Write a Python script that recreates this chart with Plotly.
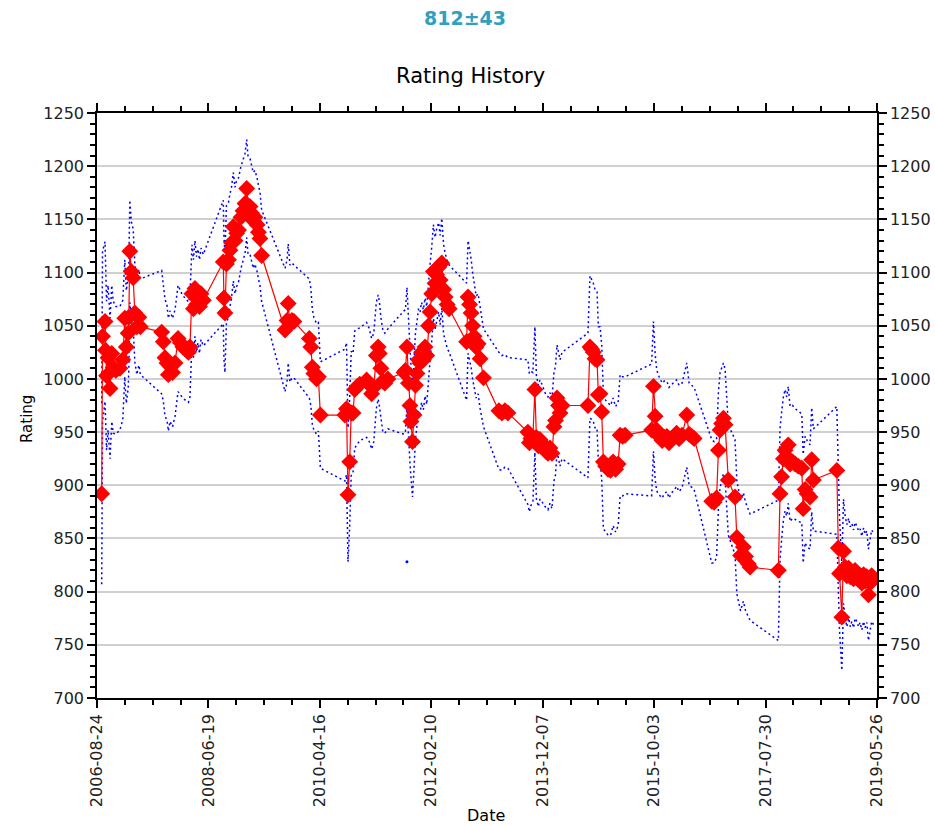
import plotly.graph_objects as go
import pandas as pd

# ---------------- data ----------------
dates = [
    # 2006
    "2006-09-21", "2006-09-26", "2006-10-11", "2006-10-14", "2006-10-20", "2006-10-29", "2006-11-10", "2006-11-20", "2006-11-29", "2006-12-15",
    # 2007 Jan-May
    "2007-01-08", "2007-01-25", "2007-02-06", "2007-02-15", "2007-02-26", "2007-03-02", "2007-03-08", "2007-03-17", "2007-03-28", "2007-04-07", "2007-04-19", "2007-05-01", "2007-05-10",
    # 2007-09 .. 2008-05
    "2007-09-14", "2007-09-24", "2007-10-04", "2007-10-16", "2007-10-24", "2007-11-03", "2007-11-18", "2007-12-03", "2007-12-21", "2008-01-04", "2008-01-19",
    "2008-02-10", "2008-02-21", "2008-03-01", "2008-03-13", "2008-03-22", "2008-03-31", "2008-04-09", "2008-04-18", "2008-04-27", "2008-05-06", "2008-05-20",
    # 2008-09 .. 2009-05
    "2008-09-16", "2008-09-20", "2008-09-26", "2008-10-05", "2008-10-17", "2008-10-26", "2008-11-04", "2008-11-15", "2008-11-25", "2008-12-05", "2008-12-16", "2008-12-31",
    "2009-01-12", "2009-01-24", "2009-02-03", "2009-02-11", "2009-02-23", "2009-03-04", "2009-03-14", "2009-03-24", "2009-04-06", "2009-04-14", "2009-04-23", "2009-05-03",
    # 2009-09 .. 2010-04
    "2009-09-20", "2009-10-02", "2009-10-09", "2009-10-19", "2009-10-31", "2009-11-12", "2010-02-12", "2010-02-21", "2010-03-02", "2010-03-11", "2010-03-27", "2010-04-07", "2010-04-19",
    # 2010-09 .. 2011-05
    "2010-09-12", "2010-09-22", "2010-10-01", "2010-10-11", "2010-10-20", "2010-10-31", "2010-11-10", "2010-11-25", "2010-12-10", "2011-01-20",
    "2011-02-03", "2011-02-19", "2011-03-04", "2011-03-19", "2011-03-30", "2011-04-06", "2011-04-15", "2011-04-27", "2011-05-09", "2011-05-27",
    # 2011-08 .. 2012-05
    "2011-08-31", "2011-09-09", "2011-09-18", "2011-09-27", "2011-10-06", "2011-10-12", "2011-10-21", "2011-10-30", "2011-11-08", "2011-11-17",
    "2011-11-26", "2011-12-05", "2011-12-14", "2011-12-25", "2012-01-04", "2012-01-14", "2012-01-25", "2012-02-03", "2012-02-13", "2012-02-23",
    "2012-03-04", "2012-03-13", "2012-03-25", "2012-04-03", "2012-04-13", "2012-04-24", "2012-05-03", "2012-05-15", "2012-05-27",
    # 2012-09 .. 2012-12
    "2012-09-08", "2012-09-17", "2012-09-26", "2012-10-05", "2012-10-14", "2012-10-23", "2012-11-04", "2012-11-16", "2012-11-28", "2012-12-18",
    # 2013-03 .. 2013-05
    "2013-03-20", "2013-04-07", "2013-04-25", "2013-05-13",
    # 2013-09 .. 2014-04
    "2013-09-09", "2013-09-18", "2013-09-27", "2013-10-09", "2013-10-21", "2013-10-30", "2013-11-11", "2013-11-20", "2013-12-02", "2013-12-14",
    "2013-12-26", "2014-01-07", "2014-01-19", "2014-01-31", "2014-02-12", "2014-02-21", "2014-03-02", "2014-03-11", "2014-03-20", "2014-04-01",
    # 2014-09 .. 2015-04
    "2014-09-03", "2014-09-15", "2014-09-25", "2014-10-05", "2014-10-15", "2014-10-27", "2014-11-04", "2014-11-14", "2014-11-24", "2014-12-04",
    "2014-12-17", "2015-01-01", "2015-01-16", "2015-01-31", "2015-02-15", "2015-03-02", "2015-03-14", "2015-03-29", "2015-04-13",
    # 2015-09 .. 2016-05
    "2015-09-18", "2015-09-29", "2015-10-09", "2015-10-18", "2015-10-27", "2015-11-08", "2015-11-20", "2015-12-02", "2015-12-18", "2015-12-31",
    "2016-01-15", "2016-01-30", "2016-02-14", "2016-02-29", "2016-03-18", "2016-04-15", "2016-04-29", "2016-05-15", "2016-05-29",
    # 2016-09 .. 2017-04
    "2016-09-11", "2016-09-25", "2016-10-10", "2016-10-21", "2016-10-31", "2016-11-09", "2016-11-20", "2016-11-30", "2016-12-19", "2017-01-28",
    "2017-02-08", "2017-03-02", "2017-03-19", "2017-04-01", "2017-04-18", "2017-04-28",
    # 2017-10 .. 2018-05
    "2017-10-14", "2017-10-24", "2017-11-02", "2017-11-13", "2017-11-23", "2017-12-03", "2017-12-12", "2017-12-23", "2018-01-07", "2018-01-22",
    "2018-02-09", "2018-03-03", "2018-03-11", "2018-03-23", "2018-04-04", "2018-04-21", "2018-05-01", "2018-05-11",
    # 2018-09 .. 2019-05
    "2018-09-28", "2018-10-07", "2018-10-14", "2018-10-28", "2018-11-07", "2018-11-17", "2018-11-27", "2018-12-08", "2018-12-17", "2018-12-27",
    "2019-01-06", "2019-01-15", "2019-01-25", "2019-02-05", "2019-02-14", "2019-02-24", "2019-03-07", "2019-03-16", "2019-03-26", "2019-04-05",
    "2019-04-15", "2019-04-24", "2019-05-05",
]

rating = [
    892, 1040, 1054, 1027, 1003, 1020, 991, 1024, 1011, 1008,
    1010, 1018, 1057, 1030, 1043, 1058, 1120, 1101, 1095, 1062, 1049, 1058, 1049,
    1044, 1035, 1020, 1015, 1004, 1012, 1006, 1015, 1038, 1034, 1030,
    1027, 1025, 1030, 1080, 1066, 1085, 1070, 1078, 1068, 1080, 1074,
    1110, 1076, 1062, 1108, 1112, 1121, 1128, 1143, 1130, 1137, 1140, 1152,
    1158, 1165, 1179, 1163, 1162, 1156, 1149, 1152, 1145, 1138, 1132, 1116,
    1046, 1055, 1071, 1052, 1055, 1054, 1038, 1030, 1011, 1005, 1000, 1002, 966,
    966, 972, 891, 922, 968, 968, 990, 993, 995, 999,
    995, 986, 992, 1022, 1030, 1024, 1010, 998, 996, 1000,
    1006, 1008, 1030, 996, 975, 960, 941, 966, 994, 1005,
    1018, 1015, 1025, 1018, 1030, 1022, 1050, 1063, 1080, 1101,
    1090, 1098, 1105, 1093, 1109, 1084, 1077, 1070, 1066,
    1035, 1077, 1070, 1062, 1050, 1040, 1030, 1033, 1019, 1001,
    970, 968, 970, 968,
    950, 940, 944, 945, 990, 945, 937, 943, 940, 935,
    932, 930, 935, 930, 955, 961, 982, 975, 968, 975,
    975, 1030, 1028, 1025, 1019, 1018, 985, 986, 969, 922,
    918, 915, 914, 922, 915, 920, 947, 946, 947,
    952, 993, 965, 952, 948, 945, 942, 945, 946, 940,
    944, 946, 949, 944, 947, 966, 948, 946, 944,
    885, 884, 888, 933, 952, 958, 963, 957, 905, 889,
    851, 834, 842, 833, 826, 823,
    820, 892, 908, 925, 933, 927, 938, 920, 922, 920,
    918, 916, 878, 896, 892, 889, 924, 905,
    914, 841, 817, 776, 838, 823, 815, 822, 814, 818,
    812, 820, 817, 812, 815, 808, 816, 810, 814, 797,
    808, 815, 812,
]

deviation = [
    85, 80, 75, 72, 70, 68, 66, 64, 62, 60,
    58, 56, 55, 53, 52, 50, 48, 47, 46, 46, 45, 45, 45,
    58, 56, 55, 54, 53, 52, 51, 50, 50, 49, 48,
    48, 47, 47, 46, 46, 45, 45, 44, 44, 43, 43,
    58, 57, 56, 55, 54, 53, 52, 51, 50, 50, 49, 48,
    48, 47, 46, 46, 45, 45, 45, 44, 44, 44, 44, 43,
    58, 57, 56, 55, 54, 53, 56, 55, 54, 53, 52, 51, 50,
    62, 62, 63, 60, 58, 56, 55, 54, 53, 54,
    53, 52, 51, 50, 49, 49, 48, 48, 47, 47,
    58, 57, 56, 55, 54, 53, 52, 51, 50, 49,
    48, 48, 47, 47, 46, 46, 45, 45, 44, 44,
    43, 43, 42, 42, 42, 42, 41, 41, 41,
    55, 53, 52, 51, 50, 49, 48, 47, 47, 46,
    55, 54, 53, 52,
    68, 65, 63, 61, 59, 58, 57, 56, 55, 54,
    53, 53, 52, 52, 51, 51, 50, 50, 50, 50,
    68, 67, 66, 65, 65, 64, 64, 63, 63, 63,
    62, 62, 61, 60, 59, 58, 57, 56, 55,
    62, 61, 59, 57, 56, 55, 54, 53, 52, 52,
    51, 51, 50, 50, 49, 49, 48, 48, 48,
    58, 57, 56, 55, 54, 53, 52, 52, 52, 54,
    53, 52, 51, 51, 50, 50,
    66, 62, 60, 58, 57, 56, 55, 54, 53, 52,
    52, 51, 51, 50, 50, 49, 49, 48,
    60, 56, 53, 50, 49, 48, 48, 47, 47, 46,
    46, 45, 45, 45, 44, 44, 44, 44, 43, 43,
    43, 43, 43,
]

# a lone point of the lower band, shown without neighbours
stray_dates = ["2011-09-18"]
stray_values = [828]

x_start = "2006-08-24"
x_end = "2019-05-26"
x_tick_labels = ["2006-08-24", "2008-06-19", "2010-04-16", "2012-02-10",
                 "2013-12-07", "2015-10-03", "2017-07-30", "2019-05-26"]
y_ticks = [700, 750, 800, 850, 900, 950, 1000, 1050, 1100, 1150, 1200, 1250]

title_main = "812±43"
title_sub = "Rating History"

# ---------------- derived ----------------
n = min(len(dates), len(rating), len(deviation))
dates, rating, deviation = dates[:n], rating[:n], deviation[:n]
upper = [r + d for r, d in zip(rating, deviation)]
lower = [r - d for r, d in zip(rating, deviation)]

t0 = pd.Timestamp(x_start)
t1 = pd.Timestamp(x_end)
step = (t1 - t0) / 28
x_minor = [(t0 + k * step).strftime("%Y-%m-%d %H:%M:%S") for k in range(29) if k % 4 != 0]

FONT = "DejaVu Sans"
TICKFONT = dict(family=FONT, size=16, color="#222222")

fig = go.Figure()
band_line = dict(color="#0000ff", width=1.5, dash="2px,3px")
fig.add_trace(go.Scatter(x=dates, y=upper, mode="lines", line=band_line,
                         showlegend=False, hoverinfo="skip"))
fig.add_trace(go.Scatter(x=dates, y=lower, mode="lines", line=band_line,
                         showlegend=False, hoverinfo="skip"))
fig.add_trace(go.Scatter(x=stray_dates, y=stray_values, mode="markers",
                         marker=dict(color="#0000ff", size=3),
                         xaxis="x2", yaxis="y2", showlegend=False, hoverinfo="skip"))
fig.add_trace(go.Scatter(x=dates, y=rating, mode="lines+markers",
                         line=dict(color="#ff0000", width=1.2),
                         marker=dict(symbol="diamond", size=13, color="#ff0000"),
                         showlegend=False, name="Rating"))

axis_common = dict(showline=True, linecolor="black", linewidth=1.5,
                   ticks="outside", ticklen=8, tickwidth=1.5, tickcolor="black",
                   zeroline=False, tickfont=TICKFONT, automargin=False)

x_common = dict(axis_common, type="date", range=[x_start, x_end],
                tickmode="array", tickvals=x_tick_labels, ticktext=x_tick_labels,
                tickangle=-90, showgrid=False,
                minor=dict(tickmode="array", tickvals=x_minor, ticks="outside",
                           ticklen=5, tickwidth=1.5, tickcolor="black", showgrid=False))
y_common = dict(axis_common, range=[700, 1250], tickmode="array", tickvals=y_ticks,
                minor=dict(dtick=10, tick0=700, ticks="outside", ticklen=5,
                           tickwidth=1.5, tickcolor="black", showgrid=False))

fig.update_layout(
    width=935, height=826,
    margin=dict(l=97, r=58, t=113, b=128, autoexpand=False),
    paper_bgcolor="white", plot_bgcolor="white",
    xaxis=dict(x_common, side="bottom", anchor="y"),
    xaxis2=dict(x_common, side="top", overlaying="x", anchor="y", showticklabels=False),
    yaxis=dict(y_common, side="left", anchor="x", showgrid=True,
               gridcolor="#d0d0d0", gridwidth=1.5),
    yaxis2=dict(y_common, side="right", overlaying="y", anchor="x", showgrid=False),
    annotations=[
        dict(text="<b>%s</b>" % title_main, x=(465 - 97) / 780, y=(698 - 18) / 585,
             xref="paper", yref="paper",
             showarrow=False, xanchor="center", yanchor="middle",
             font=dict(family=FONT, size=19, color="#2fa0c0")),
        dict(text=title_sub, x=(470 - 97) / 780, y=(698 - 76) / 585, xref="paper", yref="paper",
             showarrow=False, xanchor="center", yanchor="middle",
             font=dict(family=FONT, size=21, color="black")),
        dict(text="Rating", x=(27 - 97) / 780, y=(698 - 419) / 585, xref="paper", yref="paper",
             showarrow=False, xanchor="center", yanchor="middle", textangle=-90,
             font=dict(family=FONT, size=15, color="black")),
        dict(text="Date", x=(486 - 97) / 780, y=(698 - 815) / 585, xref="paper", yref="paper",
             showarrow=False, xanchor="center", yanchor="middle",
             font=dict(family=FONT, size=16, color="black")),
    ],
)

fig.write_html("out.html",
               config={"displayModeBar": False},
               post_script="document.body.style.margin='0px';document.body.style.overflow='hidden';")
